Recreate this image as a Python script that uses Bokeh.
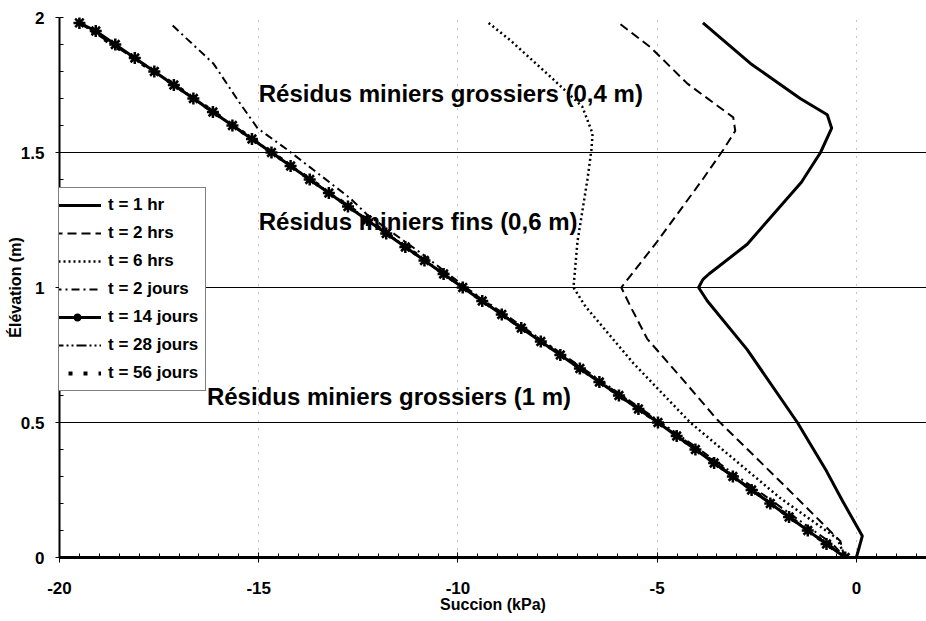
from bokeh.plotting import figure
from bokeh.models import Legend, LegendItem, FixedTicker, NumeralTickFormatter, Label
from bokeh.embed import file_html
from bokeh.resources import INLINE

# ---------------- data ----------------
x_ticks = [-20, -15, -10, -5, 0]
y_ticks = [0, 0.5, 1, 1.5, 2]

succ_1hr = [-3.85, -2.66, -1.41, -0.73, -0.62, -0.90, -1.38, -2.74, -3.70, -3.85, -3.96,
            -3.74, -2.74, -1.48, -0.75, -0.35, 0.15, 0.00]
elev_1hr = [1.98, 1.83, 1.70, 1.64, 1.59, 1.50, 1.39, 1.16, 1.05, 1.03, 1.00,
            0.95, 0.77, 0.50, 0.32, 0.21, 0.08, 0.00]

succ_2hrs = [-5.92, -5.17, -4.24, -3.09, -3.04, -3.34, -3.86, -5.00, -5.90, -5.67, -5.25,
             -4.42, -3.49, -1.83, -0.40, -0.30]
elev_2hrs = [1.975, 1.89, 1.755, 1.63, 1.58, 1.51, 1.40, 1.17, 1.00, 0.93, 0.81,
             0.67, 0.51, 0.27, 0.06, 0.00]

succ_6hrs = [-9.23, -8.68, -7.60, -6.88, -6.62, -6.65, -6.75, -7.00, -7.10, -6.80, -5.60,
             -4.17, -1.91, -0.48, -0.28]
elev_6hrs = [1.98, 1.915, 1.77, 1.67, 1.57, 1.51, 1.40, 1.17, 1.00, 0.93, 0.72,
             0.50, 0.22, 0.07, 0.00]

succ_2j = [-17.16, -16.14, -15.46, -15.03, -14.28, -12.70, -12.28, -10.95, -9.80, -7.35,
           -4.90, -2.50, -0.60, -0.28]
elev_2j = [1.97, 1.83, 1.68, 1.59, 1.51, 1.33, 1.27, 1.13, 1.00, 0.75,
           0.50, 0.25, 0.05, 0.00]

elev_14j = [0.00, 0.05, 0.10, 0.15, 0.20, 0.25, 0.30, 0.35, 0.40, 0.45, 0.50,
            0.55, 0.60, 0.65, 0.70, 0.75, 0.80, 0.85, 0.90, 0.95, 1.00,
            1.05, 1.10, 1.15, 1.20, 1.25, 1.30, 1.35, 1.40, 1.45, 1.50,
            1.55, 1.60, 1.65, 1.70, 1.75, 1.80, 1.85, 1.90, 1.95, 1.98]
succ_14j = [-0.28, -0.75, -1.22, -1.69, -2.16, -2.63, -3.10, -3.57, -4.04, -4.51, -4.98,
            -5.47, -5.96, -6.45, -6.94, -7.43, -7.92, -8.41, -8.90, -9.39, -9.88,
            -10.36, -10.84, -11.32, -11.80, -12.28, -12.76, -13.24, -13.72, -14.20, -14.68,
            -15.17, -15.66, -16.15, -16.64, -17.13, -17.62, -18.11, -18.60, -19.09, -19.50]

succ_28j = [-19.50, -17.10, -14.66, -12.25, -9.86, -7.40, -4.96, -2.60, -0.28]
elev_28j = [1.98, 1.75, 1.50, 1.25, 1.00, 0.75, 0.50, 0.25, 0.00]

succ_56j = [-19.50, -17.11, -14.67, -12.26, -9.87, -7.41, -4.97, -2.61, -0.28]
elev_56j = [1.98, 1.75, 1.50, 1.25, 1.00, 0.75, 0.50, 0.25, 0.00]

labels = ["t = 1 hr", "t = 2 hrs", "t = 6 hrs", "t = 2 jours",
          "t = 14 jours", "t = 28 jours", "t = 56 jours"]

zone_texts = ["Résidus miniers grossiers (0,4 m)",
              "Résidus miniers fins (0,6 m)",
              "Résidus miniers grossiers (1 m)"]
zone_x = [-15.0, -15.0, -16.3]
zone_y = [1.72, 1.245, 0.595]

FONT = "Liberation Sans"

# ---------------- figure ----------------
p = figure(width=926, height=621, x_range=(-20, 1.76), y_range=(0, 2),
           output_backend="svg", toolbar_location=None,
           min_border_left=59, min_border_right=0, min_border_top=17, min_border_bottom=64)
p.outline_line_color = None
p.background_fill_color = "white"

xt = FixedTicker(ticks=x_ticks, minor_ticks=[-20 + 0.5 * i for i in range(44)])
yt = FixedTicker(ticks=y_ticks, minor_ticks=[round(0.1 * i, 1) for i in range(21)])
p.xaxis.ticker = xt
p.yaxis.ticker = yt
p.xgrid.ticker = xt
p.ygrid.ticker = yt

p.xaxis.formatter = NumeralTickFormatter(format="0")
p.yaxis.formatter = NumeralTickFormatter(format="0.[0]")

for ax in (p.xaxis[0], p.yaxis[0]):
    ax.axis_line_color = "black"
    ax.major_tick_line_color = "black"
    ax.minor_tick_line_color = "black"
    ax.major_label_text_font = FONT
    ax.major_label_text_font_style = "bold"
    ax.major_label_text_font_size = "17px"
    ax.major_label_text_color = "black"
    ax.axis_label_text_font = FONT
    ax.axis_label_text_font_style = "bold"
    ax.axis_label_text_font_size = "16px"
    ax.axis_label_text_color = "black"

p.xaxis.axis_label = "Succion (kPa)"
p.xaxis.axis_line_width = 3
p.xaxis.major_tick_in = 5
p.xaxis.major_tick_out = 5
p.xaxis.minor_tick_in = 4
p.xaxis.minor_tick_out = 0
p.xaxis.major_label_standoff = 19
p.xaxis.axis_label_standoff = -1

p.yaxis.axis_label = "Élévation (m)"
p.yaxis.axis_line_width = 2
p.yaxis.major_tick_in = 0
p.yaxis.major_tick_out = 4
p.yaxis.minor_tick_in = 4
p.yaxis.minor_tick_out = 0
p.yaxis.major_label_standoff = 11
p.yaxis.axis_label_standoff = -6

p.ygrid.grid_line_color = "black"
p.ygrid.grid_line_width = 1.2
p.xgrid.grid_line_color = "#8a8a8a"
p.xgrid.grid_line_width = 1
p.xgrid.grid_line_dash = "1 7"

# ---------------- series ----------------
r28 = p.line(succ_28j, elev_28j, line_color="black", line_width=2, line_dash="10 3 2 3 2 3")
r56 = p.line(succ_56j, elev_56j, line_color="black", line_width=4, line_dash="4 11")
r2j = p.line(succ_2j, elev_2j, line_color="black", line_width=2, line_dash="8 4 2 4")
r14 = p.line(succ_14j, elev_14j, line_color="black", line_width=3)
r14m = p.scatter(succ_14j, elev_14j, marker="asterisk", size=12, line_color="black", line_width=2.5)
r6 = p.line(succ_6hrs, elev_6hrs, line_color="black", line_width=2.5, line_dash="2 3")
r2 = p.line(succ_2hrs, elev_2hrs, line_color="black", line_width=2, line_dash="9 5")
r1 = p.line(succ_1hr, elev_1hr, line_color="black", line_width=3)

for t, xx, yy in zip(zone_texts, zone_x, zone_y):
    p.add_layout(Label(x=xx, y=yy, text=t, text_font=FONT, text_font_style="bold",
                       text_font_size="24px", text_color="black", text_baseline="middle",
                       text_align="left"))

legend = Legend(items=[
    LegendItem(label=labels[0], renderers=[r1]),
    LegendItem(label=labels[1], renderers=[r2]),
    LegendItem(label=labels[2], renderers=[r6]),
    LegendItem(label=labels[3], renderers=[r2j]),
    LegendItem(label=labels[4], renderers=[r14, r14m]),
    LegendItem(label=labels[5], renderers=[r28]),
    LegendItem(label=labels[6], renderers=[r56]),
], location=(-14, 166))
legend.label_text_font = FONT
legend.label_text_font_style = "bold"
legend.label_text_font_size = "17px"
legend.label_text_color = "black"
legend.glyph_width = 48
legend.glyph_height = 20
legend.label_height = 20
legend.spacing = 8
legend.padding = 7
legend.margin = 0
legend.label_standoff = 7
legend.border_line_color = "black"
legend.border_line_width = 1.5
legend.background_fill_color = "white"
legend.background_fill_alpha = 1.0
p.add_layout(legend)

open("out.html", "w").write(file_html(p, INLINE))
